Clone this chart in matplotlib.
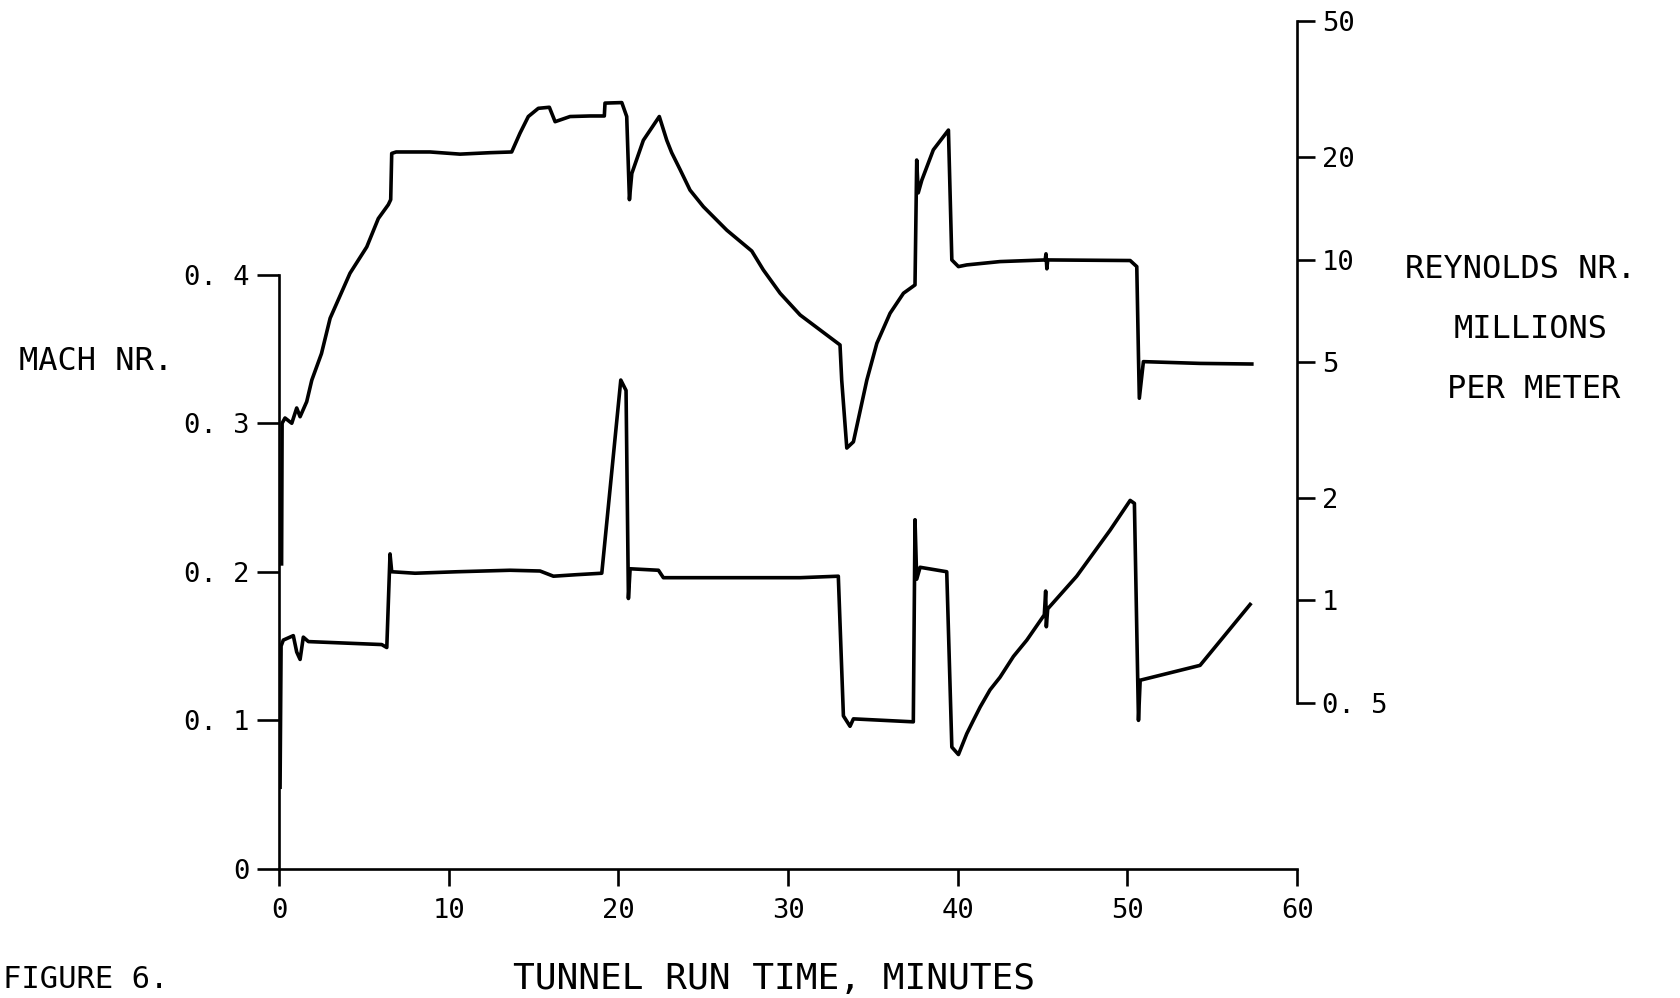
import numpy as np
import matplotlib.pyplot as plt
from matplotlib.ticker import NullLocator

# Mach number trace (left axis)
mach_t = [0.06, 0.12, 0.25, 0.84, 1.04, 1.24, 1.43, 1.73, 3.89, 6.05, 6.35, 6.54, 6.64,
          8.02, 10.5, 13.61, 15.38, 16.17, 17.5, 19.02, 20.14, 20.45, 20.59, 20.69,
          22.36, 22.65, 24.81, 30.71, 32.96, 33.26, 33.65, 33.85, 37.38, 37.48, 37.58,
          37.78, 39.35, 39.65, 40.04, 40.53, 40.92, 41.32, 41.90, 42.49, 43.28, 44.07,
          45.10, 45.18, 45.22, 45.30, 47.01, 48.98, 50.16, 50.41, 50.65, 50.75, 54.28,
          57.23]
mach_val = [0.055, 0.150, 0.154, 0.157, 0.146, 0.141, 0.156, 0.153, 0.152, 0.151, 0.149,
            0.212, 0.200, 0.199, 0.200, 0.201, 0.2005, 0.197, 0.198, 0.199, 0.329, 0.322,
            0.182, 0.202, 0.201, 0.196, 0.196, 0.196, 0.197, 0.103, 0.096, 0.101, 0.099,
            0.235, 0.195, 0.203, 0.200, 0.082, 0.077, 0.091, 0.100, 0.109, 0.1205, 0.129,
            0.143, 0.154, 0.171, 0.187, 0.163, 0.175, 0.197, 0.228, 0.248, 0.246, 0.100,
            0.127, 0.137, 0.178]

# Reynolds number trace, millions per meter (right axis, log)
re_t = [0.15, 0.18, 0.35, 0.75, 1.04, 1.24, 1.63, 1.93, 2.50, 3.01, 4.18, 5.17, 5.85,
        6.44, 6.58, 6.64, 6.90, 8.9, 10.67, 12.44, 13.71, 14.20, 14.69, 15.28, 15.93,
        16.27, 17.15, 18.33, 19.17, 19.21, 20.20, 20.49, 20.65, 20.79, 21.47, 22.41,
        22.85, 23.14, 23.63, 24.22, 25.01, 26.39, 27.86, 28.54, 29.53, 30.71, 33.06,
        33.16, 33.46, 33.85, 34.64, 35.23, 36.01, 36.80, 37.48, 37.58, 37.67, 37.88,
        38.56, 39.45, 39.65, 40.04, 40.53, 42.49, 45.15, 45.2, 45.25, 45.3, 50.16,
        50.55, 50.65, 50.70, 50.94, 54.28, 57.33]
re_val = [1.28, 3.31, 3.43, 3.31, 3.67, 3.46, 3.83, 4.43, 5.30, 6.73, 9.12, 10.9, 13.2,
          14.5, 15.0, 20.5, 20.7, 20.7, 20.4, 20.6, 20.7, 23.5, 26.3, 27.8, 28.0, 25.4,
          26.3, 26.4, 26.4, 28.8, 28.9, 26.3, 15.0, 17.9, 22.4, 26.3, 22.4, 20.6, 18.4,
          16.0, 14.3, 12.2, 10.6, 9.33, 7.97, 6.88, 5.62, 4.43, 2.80, 2.92, 4.43, 5.68,
          6.96, 7.97, 8.43, 19.6, 15.7, 17.1, 21.0, 24.0, 9.98, 9.54, 9.65, 9.87, 9.98,
          10.4, 9.4, 9.98, 9.94, 9.54, 5.19, 3.92, 5.02, 4.96, 4.94]

x_ticks = [0, 10, 20, 30, 40, 50, 60]
x_tick_labels = ['0', '10', '20', '30', '40', '50', '60']
mach_ticks = [0, 0.1, 0.2, 0.3, 0.4]
mach_tick_labels = ['0', '0. 1', '0. 2', '0. 3', '0. 4']
re_ticks = [0.5, 1, 2, 5, 10, 20, 50]
re_tick_labels = ['0. 5', '1', '2', '5', '10', '20', '50']

plt.rcParams['font.family'] = ['DejaVu Sans Mono']

fig = plt.figure(figsize=(16.8, 9.98), dpi=100)
ax = fig.add_axes([0.1661, 0.1293, 0.6060, 0.8492])
ax2 = ax.twinx()

ax.plot(mach_t, mach_val, color='black', lw=2.6)
ax2.plot(re_t, re_val, color='black', lw=2.6)

ax.set_xlim(0, 60)
ax.set_ylim(0, 0.5703)
ax2.set_yscale('log')
ax2.set_ylim(0.1629, 50)

ax.spines['top'].set_visible(False)
ax.spines['right'].set_visible(False)
ax.spines['left'].set_bounds(0, 0.4)
ax.spines['bottom'].set_bounds(0, 60)
for s in ['top', 'left', 'bottom']:
    ax2.spines[s].set_visible(False)
ax2.spines['right'].set_bounds(0.5, 50)
for sp in [ax.spines['left'], ax.spines['bottom'], ax2.spines['right']]:
    sp.set_linewidth(1.9)

ax.set_xticks(x_ticks)
ax.set_xticklabels(x_tick_labels)
ax.set_yticks(mach_ticks)
ax.set_yticklabels(mach_tick_labels)
ax2.set_yticks(re_ticks)
ax2.set_yticklabels(re_tick_labels)
ax2.yaxis.set_minor_locator(NullLocator())
ax.tick_params(axis='y', direction='out', length=15.5, width=1.9, pad=6, labelsize=19.5)
ax.tick_params(axis='x', direction='out', length=12, width=1.9, pad=9, labelsize=19.5)
ax2.tick_params(axis='y', direction='out', length=13, width=1.9, pad=5, labelsize=19.5)

fig.text(0.0571, 0.6373, 'MACH NR.', ha='center', va='center', fontsize=23)
fig.text(0.9050, 0.7295, 'REYNOLDS NR.', ha='center', va='center', fontsize=23)
fig.text(0.9113, 0.6703, 'MILLIONS', ha='center', va='center', fontsize=23)
fig.text(0.9131, 0.6102, 'PER METER', ha='center', va='center', fontsize=23)
fig.text(0.4607, 0.0190, 'TUNNEL RUN TIME, MINUTES', ha='center', va='center', fontsize=26)
fig.text(0.002, 0.0190, 'FIGURE 6.', ha='left', va='center', fontsize=22)

fig.savefig('out.png', dpi=100)
